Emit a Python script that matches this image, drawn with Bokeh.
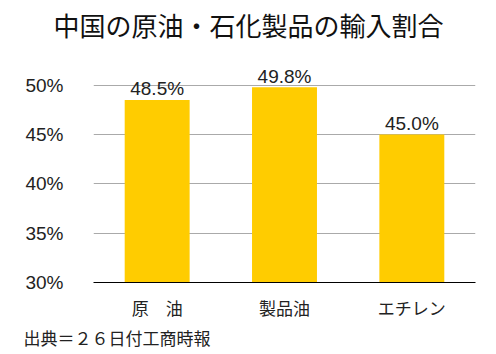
from bokeh.plotting import figure
from bokeh.models import Range1d, FixedTicker, PrintfTickFormatter, Title, ColumnDataSource
from bokeh.embed import file_html
from bokeh.resources import INLINE
from bokeh.core.properties import value

categories = ["原　油", "製品油", "エチレン"]
shares = [48.5, 49.8, 45.0]
share_labels = ["48.5%", "49.8%", "45.0%"]
y_ticks = [30, 35, 40, 45, 50]
title_text = "中国の原油・石化製品の輸入割合"
source_text = "出典＝２６日付工商時報"

JP = "Noto Sans CJK JP"
NUM = "Liberation Sans"

p = figure(x_range=categories, y_range=Range1d(30, 52.3), width=496, height=354,
           output_backend="svg", toolbar_location=None, title_location=None,
           min_border_left=93, min_border_right=21, min_border_top=62, min_border_bottom=72)
p.outline_line_color = None
p.background_fill_color = "white"

src = ColumnDataSource(dict(cat=categories, v=shares, lab=share_labels))
p.vbar(x="cat", top="v", bottom=30, width=0.51, source=src, fill_color="#FFCC00", line_color=None)
p.text(x="cat", y="v", text="lab", source=src, text_align="center", text_baseline="alphabetic",
       y_offset=-11, text_font=value(NUM), text_font_size="19px", text_color="#222222")

p.yaxis.ticker = FixedTicker(ticks=y_ticks)
p.yaxis.formatter = PrintfTickFormatter(format="%d%%")
p.yaxis.axis_line_color = None
p.yaxis.major_tick_line_color = None
p.yaxis.major_tick_out = 0
p.yaxis.major_tick_in = 0
p.yaxis.minor_tick_line_color = None
p.yaxis.minor_tick_out = 0
p.yaxis.major_label_standoff = 30
p.yaxis.major_label_text_font = NUM
p.yaxis.major_label_text_font_size = "19px"
p.yaxis.major_label_text_color = "#222222"

p.xaxis.axis_line_color = "black"
p.xaxis.axis_line_width = 1
p.xaxis.major_tick_line_color = None
p.xaxis.major_tick_out = 0
p.xaxis.major_tick_in = 0
p.xaxis.major_label_standoff = 12
p.xaxis.major_label_text_font = JP
p.xaxis.major_label_text_font_size = "17px"
p.xaxis.major_label_text_color = "#222222"

p.xgrid.grid_line_color = None
p.ygrid.grid_line_color = "#aaaaaa"
p.ygrid.grid_line_width = 1

# white, tiny spacer nearest the frame (pushes the title upward)
p.add_layout(Title(text=".", text_font_size="1px", text_color="white", standoff=17), "above")
# chart title
p.add_layout(Title(text=title_text, align="left", offset=-40, standoff=0, text_font=JP,
                   text_font_size="26px", text_font_style="normal", text_color="#111111"), "above")

p.add_layout(Title(text=source_text, align="left", offset=-70, standoff=0, text_font=JP,
                   text_font_size="17px", text_font_style="normal", text_color="#222222"), "below")

open("out.html", "w").write(file_html(p, INLINE))
